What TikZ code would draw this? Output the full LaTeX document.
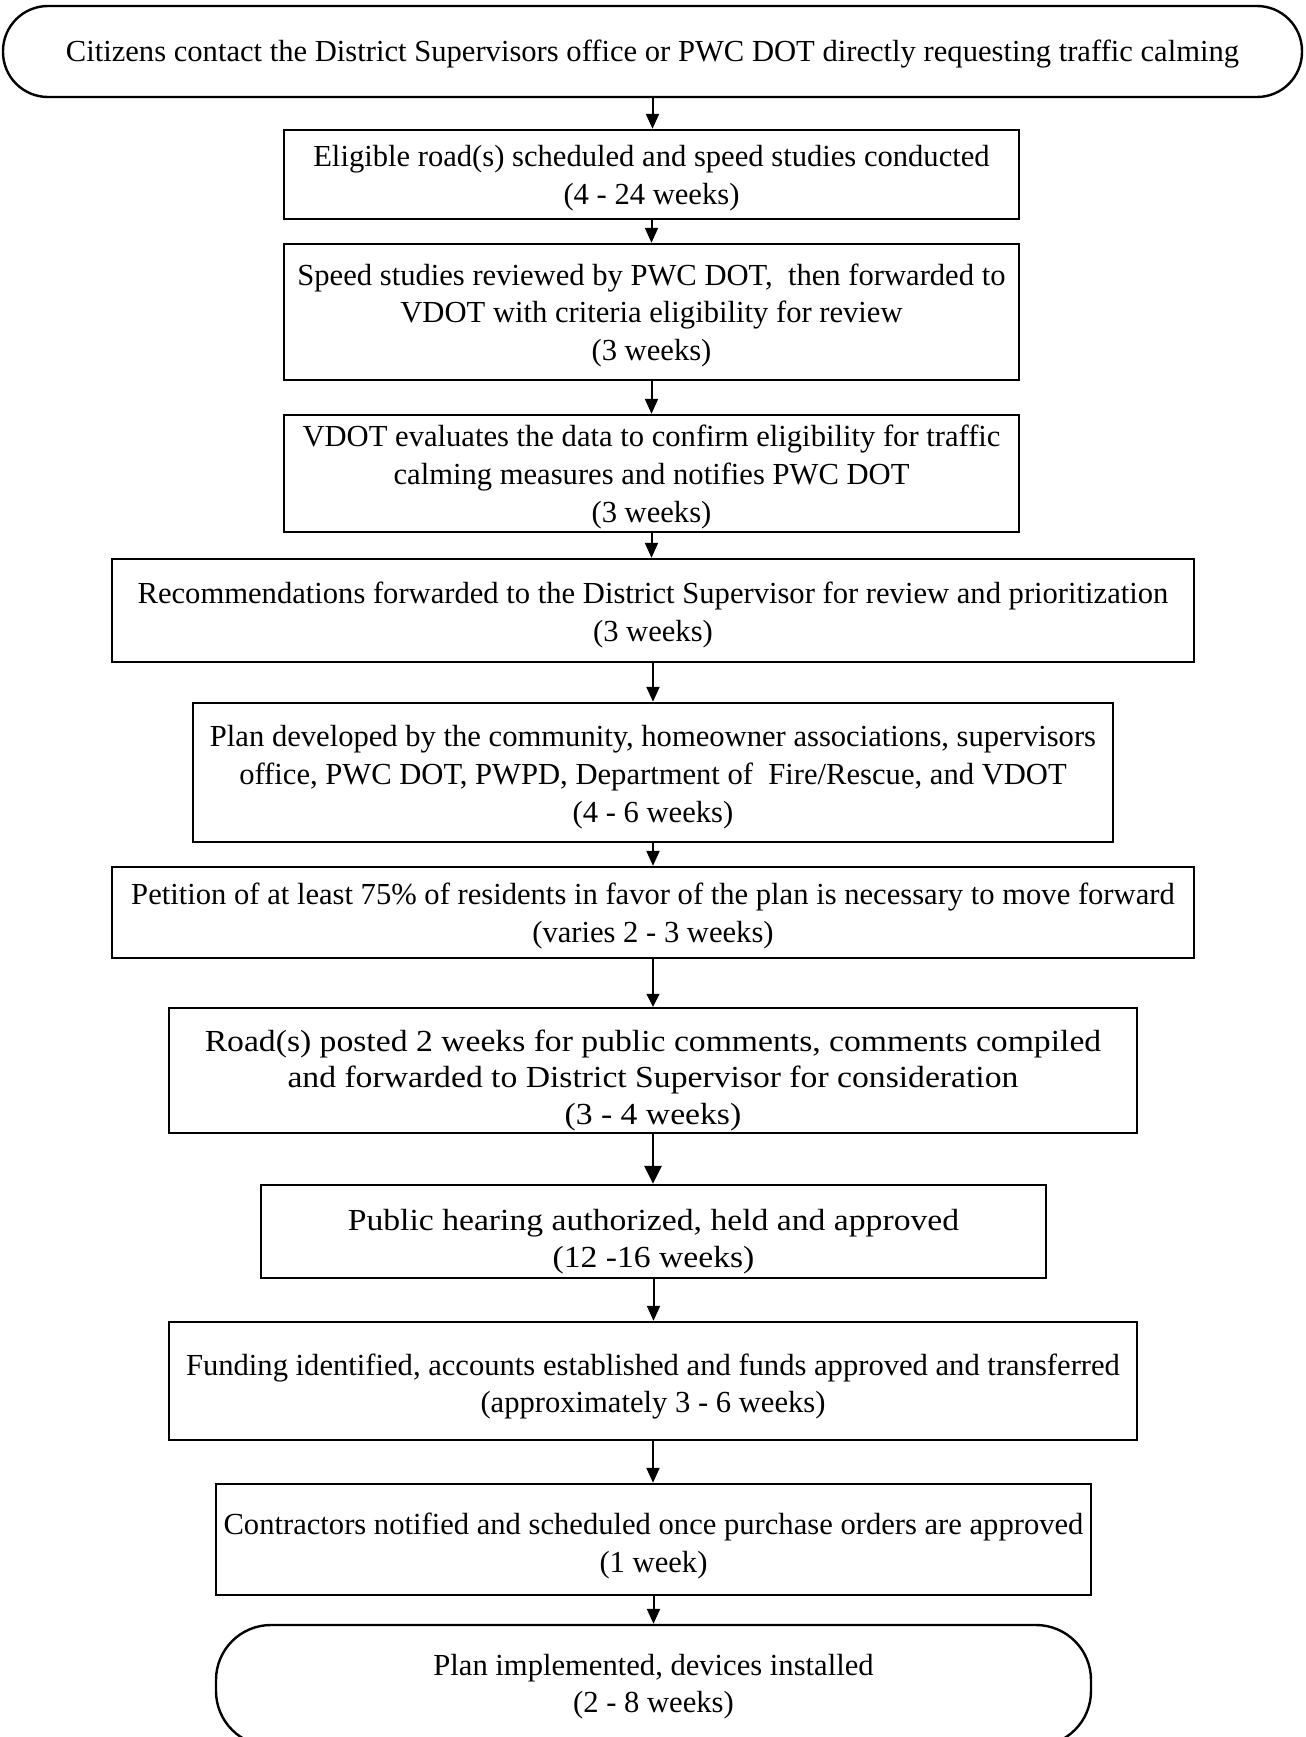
\documentclass[tikz,border=0pt]{standalone}
\usepackage{fontspec}
\setmainfont{Liberation Serif}
\newfontfamily\widefont{Liberation Serif}[FakeStretch=1.1]
\usetikzlibrary{arrows.meta}
\newcommand\boxtext[2]{\raisebox{-#1}[\height][\depth]{\begin{tabular}{@{}c@{}}#2\end{tabular}}}
\tikzset{
  box/.style={draw, line width=1.2pt, rectangle, align=center, inner sep=0pt,
    font=\fontsize{15.3}{18.8}\selectfont},
  bigbox/.style={box, font=\widefont\fontsize{15.3}{18.3}\selectfont},
  term/.style={box, rounded corners=22.5pt},
  arr/.style={line width=1pt, -{Triangle[length=7.5pt,width=6.5pt]}},
  thinarr/.style={line width=0.6pt, -{Triangle[length=6.5pt,width=6.5pt]}},
  thickarr/.style={line width=1.4pt, -{Triangle[length=9pt,width=8.5pt]}},
}
\begin{document}
\begin{tikzpicture}[x=0.5pt,y=-0.5pt]
\useasboundingbox (0,0) rectangle (1306,1737);
\clip (0,0) rectangle (1306,1737);
\node[term, minimum width=649.5pt, minimum height=45.5pt] (b1) at (652.5,51.5)
  {\boxtext{1pt}{Citizens contact the District Supervisors office or PWC DOT directly requesting traffic calming}};
\node[box, minimum width=367.5pt, minimum height=44.5pt] (b2) at (651.5,174.5)
  {\boxtext{1.7pt}{Eligible road(s) scheduled and speed studies conducted\\(4 - 24 weeks)}};
\node[box, minimum width=367.5pt, minimum height=68pt] (b3) at (651.5,312)
  {\boxtext{1.7pt}{Speed studies reviewed by PWC DOT,\ \ then forwarded to\\VDOT with criteria eligibility for review\\(3 weeks)}};
\node[box, minimum width=367.5pt, minimum height=58.5pt] (b4) at (651.5,473.5)
  {\boxtext{1.7pt}{VDOT evaluates the data to confirm eligibility for traffic\\calming measures and notifies PWC DOT\\(3 weeks)}};
\node[box, minimum width=541pt, minimum height=51.5pt] (b5) at (653,610.5)
  {\boxtext{2.2pt}{Recommendations forwarded to the District Supervisor for review and prioritization\\(3 weeks)}};
\node[box, minimum width=460pt, minimum height=69.5pt] (b6) at (653,772.5)
  {\boxtext{2.2pt}{Plan developed by the community, homeowner associations, supervisors\\office, PWC DOT, PWPD, Department of\ \ Fire/Rescue, and VDOT\\(4 - 6 weeks)}};
\node[box, minimum width=541pt, minimum height=45.5pt] (b7) at (653,912.5)
  {\boxtext{1.7pt}{Petition of at least 75\% of residents in favor of the plan is necessary to move forward\\(varies 2 - 3 weeks)}};
\node[bigbox, minimum width=484pt, minimum height=62.5pt] (b8) at (653,1070.5)
  {\boxtext{5pt}{Road(s) posted 2 weeks for public comments, comments compiled\\and forwarded to District Supervisor for consideration\\(3 - 4 weeks)}};
\node[bigbox, minimum width=392.5pt, minimum height=46.5pt] (b9) at (653.5,1231.5)
  {\boxtext{5pt}{Public hearing authorized, held and approved\\(12 -16 weeks)}};
\node[box, minimum width=484pt, minimum height=59pt] (b10) at (653,1381)
  {\boxtext{2.7pt}{Funding identified, accounts established and funds approved and transferred\\(approximately 3 - 6 weeks)}};
\node[box, minimum width=437.5pt, minimum height=55.5pt] (b11) at (653.5,1539.5)
  {\boxtext{3.3pt}{Contractors notified and scheduled once purchase orders are approved\\(1 week)}};
\node[box, rounded corners=27.5pt, minimum width=437.5pt, minimum height=60.5pt] (b12) at (653.5,1685.5)
  {\boxtext{0.5pt}{Plan implemented, devices installed\\(2 - 8 weeks)}};
\draw[arr] (b1.south) -- (b1.south |- b2.north);
\draw[arr] (b2.south) -- (b2.south |- b3.north);
\draw[arr] (b3.south) -- (b3.south |- b4.north);
\draw[arr] (b4.south) -- (b4.south |- b5.north);
\draw[arr] (b5.south) -- (b5.south |- b6.north);
\draw[arr] (b6.south) -- (b6.south |- b7.north);
\draw[thinarr] (b7.south) -- (b7.south |- b8.north);
\draw[thickarr] (b8.south) -- (b8.south |- b9.north);
\draw[arr] (b9.south) -- (b9.south |- b10.north);
\draw[arr] (b10.south) -- (b10.south |- b11.north);
\draw[arr] (b11.south) -- (b11.south |- b12.north);
\end{tikzpicture}
\end{document}
